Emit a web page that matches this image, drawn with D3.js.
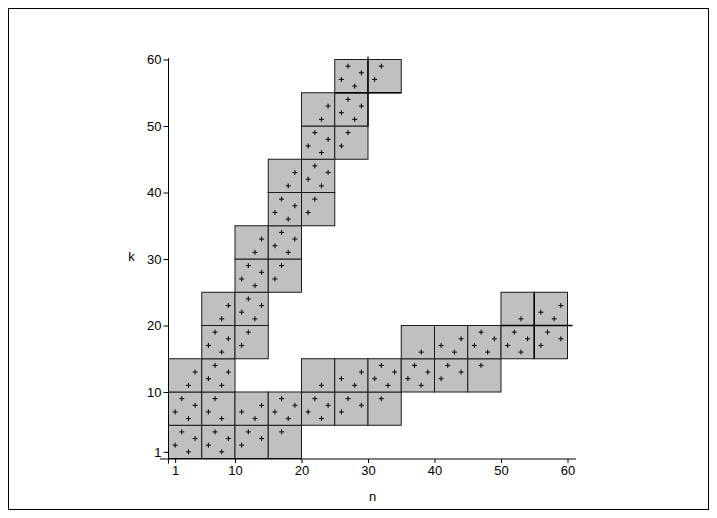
<!DOCTYPE html>
<html>
<head>
<meta charset="utf-8">
<script src="https://cdn.jsdelivr.net/npm/d3@7"></script>
<style>
  html, body { margin: 0; padding: 0; background: #fff; }
  svg { display: block; }
  text { font-family: "Liberation Sans", Arial, Helvetica, sans-serif; fill: #000; }
</style>
</head>
<body>
<svg id="chart" width="717" height="518"></svg>
<script>
// ---- data ----
const xTicks = [1, 10, 20, 30, 40, 50, 60];
const yTicks = [1, 10, 20, 30, 40, 50, 60];
const cellSize = 5;
// lower-left corners [n, k] of the shaded 5x5 cells
const cells = [
  [0,0],[0,5],[0,10],
  [5,0],[5,5],[5,10],[5,15],[5,20],
  [10,0],[10,5],[10,15],[10,20],[10,25],[10,30],
  [15,0],[15,5],[15,25],[15,30],[15,35],[15,40],
  [20,5],[20,10],[20,35],[20,40],[20,45],[20,50],
  [25,5],[25,10],[25,45],[25,50],[25,55],
  [30,5],[30,10],[30,55],
  [35,10],[35,15],
  [40,10],[40,15],
  [45,10],[45,15],
  [50,15],[50,20],
  [55,15],[55,20]
];
// points (n, k)
const points = [
  [2,4],[4,3],[1,2],[3,1],
  [2,9],[4,8],[1,7],[3,6],
  [4,13],[3,11],
  [7,4],[9,3],[6,2],[8,1],
  [7,9],[6,7],[8,6],
  [7,14],[9,13],[6,12],[8,11],
  [7,19],[9,18],[6,17],[8,16],
  [9,23],[8,21],
  [12,4],[14,3],[11,2],
  [14,8],[11,7],[13,6],
  [12,19],[11,17],
  [12,24],[14,23],[11,22],[13,21],
  [12,29],[14,28],[11,27],[13,26],
  [14,33],[13,31],
  [17,4],
  [17,9],[19,8],[16,7],[18,6],
  [17,29],[16,27],
  [17,34],[19,33],[16,32],[18,31],
  [17,39],[19,38],[16,37],[18,36],
  [19,43],[18,41],
  [22,9],[24,8],[21,7],[23,6],
  [23,11],
  [22,39],[21,37],
  [22,44],[24,43],[21,42],[23,41],
  [22,49],[24,48],[21,47],[23,46],
  [24,53],[23,51],
  [27,9],[29,8],[26,7],
  [29,13],[26,12],[28,11],
  [27,49],[26,47],
  [27,54],[29,53],[26,52],[28,51],
  [27,59],[29,58],[26,57],[28,56],
  [32,9],
  [32,14],[34,13],[31,12],[33,11],
  [32,59],[31,57],
  [37,14],[39,13],[36,12],[38,11],
  [38,16],
  [42,14],[44,13],[41,12],
  [44,18],[41,17],[43,16],
  [47,14],
  [47,19],[49,18],[46,17],[48,16],
  [52,19],[54,18],[51,17],[53,16],
  [53,21],
  [57,19],[59,18],[56,17],
  [59,23],[56,22],[58,21]
];
// darker dividing segments [n1, k1, n2, k2]
const dividers = [
  [50,20,60.75,20],[55,15,55,25],
  [30,50,30,60.45],[25,55,35,55]
];

// ---- drawing ----
const svg = d3.select("#chart");
const x = d3.scaleLinear().domain([0, 60]).range([168.5, 567.5]);
const y = d3.scaleLinear().domain([0, 60]).range([458.5, 59.5]);

// outer frame
svg.append("rect")
  .attr("x", 8.5).attr("y", 8.5).attr("width", 700).attr("height", 501)
  .attr("fill", "none").attr("stroke", "#000").attr("stroke-width", 1);

// cells
svg.append("g").selectAll("rect").data(cells).join("rect")
  .attr("x", d => x(d[0]))
  .attr("y", d => y(d[1] + cellSize))
  .attr("width", d => x(d[0] + cellSize) - x(d[0]))
  .attr("height", d => y(d[1]) - y(d[1] + cellSize))
  .attr("fill", "#c0c0c0")
  .attr("stroke", "#1a1a1a")
  .attr("stroke-width", 1);

// dividers
svg.append("g").selectAll("line").data(dividers).join("line")
  .attr("x1", d => x(d[0])).attr("y1", d => y(d[1]))
  .attr("x2", d => x(d[2])).attr("y2", d => y(d[3]))
  .attr("stroke", "#000").attr("stroke-width", 1.3);

// points as small plus markers
const s = 2.5;
svg.append("g").selectAll("path").data(points).join("path")
  .attr("d", d => {
    const px = x(d[0]), py = y(d[1]);
    return `M${px - s},${py}H${px + s}M${px},${py - s}V${py + s}`;
  })
  .attr("stroke", "#000").attr("stroke-width", 1).attr("fill", "none");

// axes
const ax = svg.append("g");
ax.append("line").attr("x1", 160).attr("x2", 576)
  .attr("y1", y(0) + 0.5).attr("y2", y(0) + 0.5)
  .attr("stroke", "#000").attr("stroke-width", 1);
ax.append("line").attr("x1", x(0)).attr("x2", x(0))
  .attr("y1", y(0) + 5).attr("y2", y(60.2))
  .attr("stroke", "#000").attr("stroke-width", 1);

const xAxis = d3.axisBottom(x).tickValues(xTicks).tickSize(4).tickPadding(3).tickFormat(d3.format("d"));
const gx = svg.append("g").attr("transform", `translate(0,${y(0) + 0.5})`).call(xAxis);
gx.select(".domain").remove();
gx.selectAll("text").style("font-size", "13px").style("font-family", "Liberation Sans, Arial, sans-serif");

const yAxis = d3.axisLeft(y).tickValues(yTicks).tickSize(5).tickPadding(2).tickFormat(d3.format("d"));
const gy = svg.append("g").attr("transform", `translate(${x(0)},0)`).call(yAxis);
gy.select(".domain").remove();
gy.selectAll("text").style("font-size", "13px").style("font-family", "Liberation Sans, Arial, sans-serif");

// axis titles
svg.append("text").attr("x", 372.5).attr("y", 501)
  .attr("text-anchor", "middle").style("font-size", "13px").text("n");
svg.append("text").attr("x", 131.5).attr("y", 261)
  .attr("text-anchor", "middle").style("font-size", "13px").text("k");
</script>
</body>
</html>
